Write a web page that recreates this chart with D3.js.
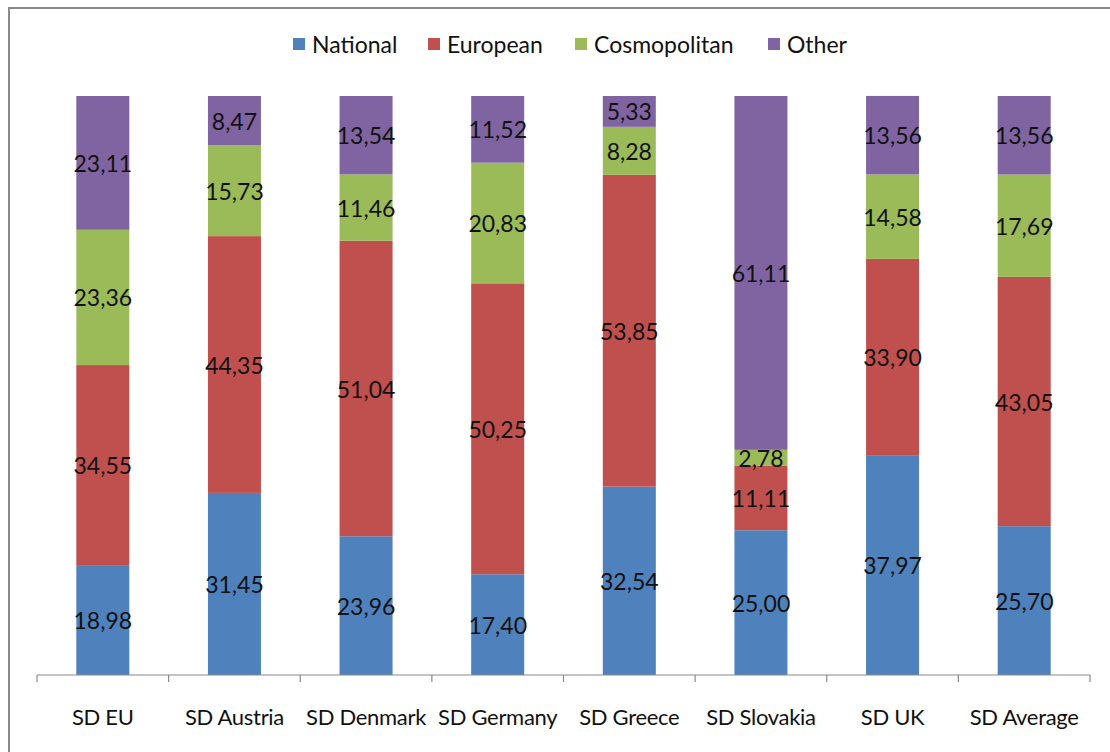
<!DOCTYPE html>
<html>
<head>
<meta charset="utf-8">
<script src="https://cdn.jsdelivr.net/npm/d3@7"></script>
<style>
  html, body { margin: 0; padding: 0; background: #fff; }
  svg { display: block; }
  text { font-family: Lato, "Open Sans", sans-serif; fill: #111; }
</style>
</head>
<body>
<svg id="chart" width="1110" height="752"></svg>
<script>
// Categories and series (percent shares per category)
const categories = ["SD EU", "SD Austria", "SD Denmark", "SD Germany", "SD Greece", "SD Slovakia", "SD UK", "SD Average"];
const seriesNames = ["National", "European", "Cosmopolitan", "Other"];
const national     = [18.98, 31.45, 23.96, 17.40, 32.54, 25.00, 37.97, 25.70];
const european     = [34.55, 44.35, 51.04, 50.25, 53.85, 11.11, 33.90, 43.05];
const cosmopolitan = [23.36, 15.73, 11.46, 20.83, 8.28, 2.78, 14.58, 17.69];
const other        = [23.11, 8.47, 13.54, 11.52, 5.33, 61.11, 13.56, 13.56];
const colors = ["#4F81BD", "#C0504D", "#9BBB59", "#8064A2"];

const seriesValues = [national, european, cosmopolitan, other];
const rows = categories.map((c, i) => {
  const r = { category: c };
  seriesNames.forEach((s, k) => { r[s] = seriesValues[k][i]; });
  return r;
});

const svg = d3.select("#chart");

// Outer chart frame
svg.append("rect")
  .attr("x", 9).attr("y", 8)
  .attr("width", 1200).attr("height", 800)
  .attr("fill", "none").attr("stroke", "#8a8a8a").attr("stroke-width", 2);

const x = d3.scaleBand().domain(categories).range([37, 1090]).paddingInner(0).paddingOuter(0);
const y = d3.scaleLinear().domain([0, 100]).range([675, 96]);
const barW = 53;

const stack = d3.stack().keys(seriesNames);
const stacked = stack(rows);

const fmt = v => v.toFixed(2).replace(".", ",");

const layers = svg.append("g").selectAll("g")
  .data(stacked).join("g")
  .attr("fill", (d, i) => colors[i]);

layers.selectAll("rect")
  .data(d => d).join("rect")
  .attr("x", d => x(d.data.category) + x.bandwidth() / 2 - barW / 2)
  .attr("y", d => y(d[1]))
  .attr("width", barW)
  .attr("height", d => y(d[0]) - y(d[1]));

// Value labels centred in each segment
const labels = svg.append("g");
stacked.forEach(layer => {
  layer.forEach(d => {
    labels.append("text")
      .attr("x", x(d.data.category) + x.bandwidth() / 2)
      .attr("y", (y(d[0]) + y(d[1])) / 2)
      .attr("text-anchor", "middle")
      .attr("dominant-baseline", "central")
      .attr("font-size", 23)
      .text(fmt(d[1] - d[0]));
  });
});

// Category axis
const axis = svg.append("g").attr("transform", "translate(0,675)");
axis.append("line")
  .attr("x1", 37).attr("x2", 1090)
  .attr("stroke", "#8a8a8a").attr("stroke-width", 1.2);
const tickPos = categories.map(c => x(c)).concat([x.range()[1]]);
axis.selectAll("line.tick")
  .data(tickPos).join("line")
  .attr("class", "tick")
  .attr("x1", d => d).attr("x2", d => d)
  .attr("y1", 0).attr("y2", 7)
  .attr("stroke", "#8a8a8a").attr("stroke-width", 1.2);
axis.selectAll("text")
  .data(categories).join("text")
  .attr("x", d => x(d) + x.bandwidth() / 2)
  .attr("y", 41)
  .attr("text-anchor", "middle")
  .attr("dominant-baseline", "central")
  .attr("font-size", 22)
  .attr("letter-spacing", -0.3)
  .text(d => d);

// Legend
const legendItems = [
  { name: "National", sx: 293 },
  { name: "European", sx: 428 },
  { name: "Cosmopolitan", sx: 575 },
  { name: "Other", sx: 768 }
];
const legend = svg.append("g");
legendItems.forEach((it, i) => {
  legend.append("rect")
    .attr("x", it.sx).attr("y", 38)
    .attr("width", 12).attr("height", 12)
    .attr("fill", colors[i]);
  legend.append("text")
    .attr("x", it.sx + 19).attr("y", 44)
    .attr("dominant-baseline", "central")
    .attr("font-size", 23)
    .text(it.name);
});
</script>
</body>
</html>
